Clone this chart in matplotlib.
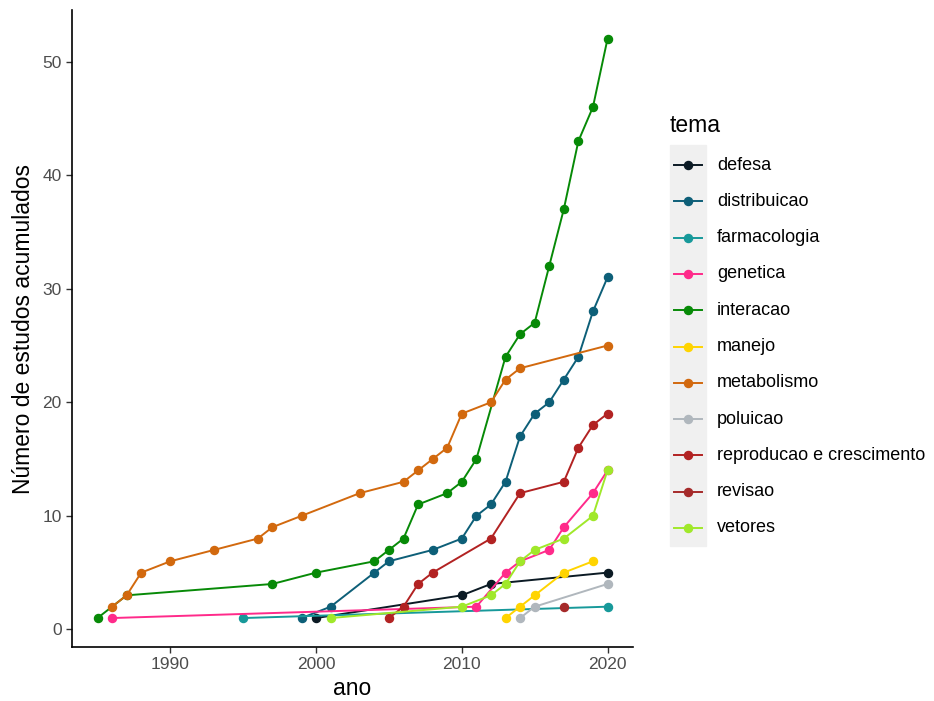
import matplotlib.pyplot as plt
from matplotlib.lines import Line2D
from matplotlib.patches import Rectangle

plt.rcParams['font.family'] = ['Liberation Sans', 'DejaVu Sans']

# data (cumulative number of studies per theme)
temas = ["defesa", "distribuicao", "farmacologia", "genetica", "interacao", "manejo",
         "metabolismo", "poluicao", "reproducao e crescimento", "revisao", "vetores"]

cores = ["#0b1a24", "#0d5f78", "#17999a", "#ff2a8a", "#078a07", "#ffd400",
         "#d2690e", "#b0b7bd", "#b22222", "#a52a2a", "#a0e82a"]

defesa_ano = [2000, 2010, 2012, 2020]
defesa_n = [1, 3, 4, 5]

distribuicao_ano = [1999, 2001, 2004, 2005, 2008, 2010, 2011, 2012, 2013, 2014, 2015, 2016, 2017, 2018, 2019, 2020]
distribuicao_n = [1, 2, 5, 6, 7, 8, 10, 11, 13, 17, 19, 20, 22, 24, 28, 31]

farmacologia_ano = [1995, 2020]
farmacologia_n = [1, 2]

genetica_ano = [1986, 2011, 2013, 2014, 2016, 2017, 2019, 2020]
genetica_n = [1, 2, 5, 6, 7, 9, 12, 14]

interacao_ano = [1985, 1987, 1997, 2000, 2004, 2005, 2006, 2007, 2009, 2010, 2011, 2013, 2014, 2015, 2016, 2017, 2018, 2019, 2020]
interacao_n = [1, 3, 4, 5, 6, 7, 8, 11, 12, 13, 15, 24, 26, 27, 32, 37, 43, 46, 52]

manejo_ano = [2013, 2014, 2015, 2017, 2019]
manejo_n = [1, 2, 3, 5, 6]

metabolismo_ano = [1986, 1987, 1988, 1990, 1993, 1996, 1997, 1999, 2003, 2006, 2007, 2008, 2009, 2010, 2012, 2013, 2014, 2020]
metabolismo_n = [2, 3, 5, 6, 7, 8, 9, 10, 12, 13, 14, 15, 16, 19, 20, 22, 23, 25]

poluicao_ano = [2014, 2015, 2020]
poluicao_n = [1, 2, 4]

reproducao_ano = [2005, 2006, 2007, 2008, 2012, 2014, 2017, 2018, 2019, 2020]
reproducao_n = [1, 2, 4, 5, 8, 12, 13, 16, 18, 19]

revisao_ano = [2017]
revisao_n = [2]

vetores_ano = [2001, 2010, 2012, 2013, 2014, 2015, 2017, 2019, 2020]
vetores_n = [1, 2, 3, 4, 6, 7, 8, 10, 14]

series = [(defesa_ano, defesa_n), (distribuicao_ano, distribuicao_n),
          (farmacologia_ano, farmacologia_n), (genetica_ano, genetica_n),
          (interacao_ano, interacao_n), (manejo_ano, manejo_n),
          (metabolismo_ano, metabolismo_n), (poluicao_ano, poluicao_n),
          (reproducao_ano, reproducao_n), (revisao_ano, revisao_n),
          (vetores_ano, vetores_n)]

W, H = 934, 701
fig = plt.figure(figsize=(W / 100, H / 100), dpi=100)
ax = fig.add_axes([72 / W, 1 - 647 / H, (633 - 72) / W, (647 - 10) / H])

for (anos, n), cor in zip(series, cores):
    ax.plot(anos, n, color=cor, lw=1.4, marker="o", ms=5.8, mec=cor, mfc=cor)

ax.set_xlim(1983.25, 2021.75)
ax.set_ylim(-1.55, 54.55)
ax.set_xticks([1990, 2000, 2010, 2020])
ax.set_yticks([0, 10, 20, 30, 40, 50])
ax.tick_params(labelsize=12.5, labelcolor="#4d4d4d", length=4, width=1, color="#333333")
for s in ["top", "right"]:
    ax.spines[s].set_visible(False)
for s in ["left", "bottom"]:
    ax.spines[s].set_linewidth(1.2)
ax.set_xlabel("ano", fontsize=16.5, labelpad=3)
ax.set_ylabel("Número de estudos acumulados", fontsize=16.5, labelpad=5)

# legend drawn by hand, ggplot style
fig.text(670 / W, 1 - 125 / H, "tema", fontsize=16.5, va="center", ha="left")
fig.patches.append(Rectangle((670 / W, 1 - 546 / H), 36 / W, 401 / H,
                             transform=fig.transFigure, color="#f0f0f0", zorder=0))
for i, (tema, cor) in enumerate(zip(temas, cores)):
    y = 1 - (165 + i * 36.3) / H
    fig.lines.append(Line2D([674 / W, 702 / W], [y, y], transform=fig.transFigure,
                            color=cor, lw=1.4))
    fig.lines.append(Line2D([688 / W], [y], transform=fig.transFigure, color=cor,
                            marker="o", ms=5.8, mec=cor, mfc=cor))
    fig.text(717 / W, y, tema, fontsize=13, va="center", ha="left")

fig.savefig("out.png", dpi=100)
